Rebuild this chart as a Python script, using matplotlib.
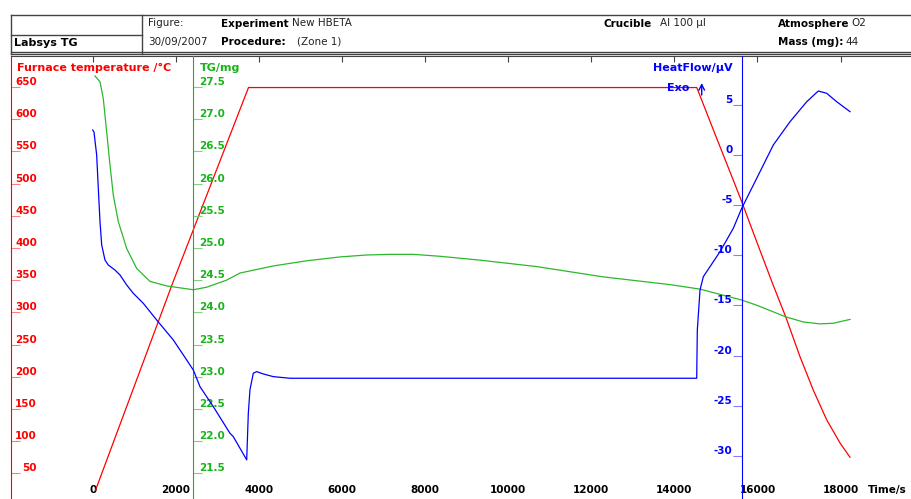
import matplotlib
matplotlib.use("Agg")
import matplotlib.pyplot as plt
from matplotlib.lines import Line2D

plt.rcParams['font.family'] = ['DejaVu Sans']

# --- data (time in s) ---
time_temp = [70, 1940, 3750, 14540, 15020, 15420, 15620, 15980, 16380, 16680,
             17025, 17345, 17667, 17988, 18228]
furnace_temp = [24, 348, 649, 649, 570, 505, 472, 410, 342, 293,
                231, 179, 133, 97, 75]

time_tg = [55, 176, 255, 337, 416, 496, 616, 818, 1059, 1379, 1781, 2422, 2744,
           3225, 3546, 4347, 5151, 5953, 6595, 7156, 7717, 8360, 9322, 10687,
           12290, 13896, 14618, 15622, 15983, 16679, 17104, 17506, 17827, 18228]
tg_mg = [27.67, 27.58, 27.32, 26.80, 26.29, 25.82, 25.41, 24.99, 24.68, 24.48,
         24.41, 24.35, 24.39, 24.50, 24.61, 24.72, 24.80, 24.86, 24.89, 24.90,
         24.90, 24.87, 24.81, 24.71, 24.55, 24.43, 24.36, 24.19, 24.11, 23.93,
         23.85, 23.82, 23.83, 23.89]

time_hf = [0, 31, 96, 135, 176, 217, 296, 375, 537, 657, 818, 977, 1218, 1540,
           1940, 2263, 2422, 2583, 2903, 3305, 3384, 3707, 3746, 3786, 3866,
           3947, 4106, 4347, 4749, 7000, 10000, 14538, 14553, 14618, 14698,
           14859, 15099, 15419, 15622, 15983, 16382, 16784, 17186, 17465,
           17667, 17908, 18228]
heatflow = [2.49, 2.3, 0.0, -3.3, -6.65, -8.97, -10.47, -10.97, -11.47, -11.96,
            -12.96, -13.79, -14.79, -16.45, -18.44, -20.44, -21.44, -23.1,
            -25.09, -27.75, -28.08, -30.4, -25.75, -23.4, -21.76, -21.6, -21.83,
            -22.1, -22.26, -22.26, -22.26, -22.26, -17.45, -13.46, -12.13,
            -11.13, -9.64, -7.31, -5.31, -2.32, 1.0, 3.32, 5.31, 6.38, 6.15,
            5.31, 4.32]

time_ticks = list(range(0, 18001, 2000))
temp_ticks = list(range(50, 651, 50))
tg_ticks = [21.5 + 0.5 * i for i in range(13)]
hf_ticks = list(range(-30, 6, 5))

RED = '#ff0000'
GREEN = '#18b418'
BLUE = '#0000ff'

W, H = 911, 499
fig = plt.figure(figsize=(W / 100, H / 100), dpi=100)


def px(x, y):
    return x / W, 1 - y / H


def hline(x1, x2, y, c='#444444', lw=1.0):
    fig.add_artist(Line2D([x1 / W, x2 / W], [1 - y / H, 1 - y / H],
                          transform=fig.transFigure, color=c, lw=lw))


def vline(x, y1, y2, c='#444444', lw=1.0):
    fig.add_artist(Line2D([x / W, x / W], [1 - y1 / H, 1 - y2 / H],
                          transform=fig.transFigure, color=c, lw=lw))


# header box
hline(11, 911, 14.5)
hline(11, 911, 51.5)
hline(11, 911, 53.5)
hline(11, 142, 34.5)
vline(11, 14.5, 53.5)
vline(142, 14.5, 53.5)

hs = 7.5
fig.text(*px(14, 43), 'Labsys TG', fontsize=8, fontweight='bold', va='center')
fig.text(*px(148, 23), 'Figure:', fontsize=hs, color='#222222', va='center')
fig.text(*px(148, 42), '30/09/2007', fontsize=hs, color='#222222', va='center')
fig.text(*px(221, 24), 'Experiment', fontsize=hs, fontweight='bold', va='center')
fig.text(*px(292, 23), 'New HBETA', fontsize=hs, color='#222222', va='center')
fig.text(*px(221, 42), 'Procedure:', fontsize=hs, fontweight='bold', va='center')
fig.text(*px(297, 42), '(Zone 1)', fontsize=hs, color='#222222', va='center')
fig.text(*px(604, 24), 'Crucible', fontsize=hs, fontweight='bold', va='center')
fig.text(*px(660, 23), 'Al 100 µl', fontsize=hs, color='#222222', va='center')
fig.text(*px(778, 24), 'Atmosphere', fontsize=hs, fontweight='bold', va='center')
fig.text(*px(851, 23), 'O2', fontsize=hs, color='#222222', va='center')
fig.text(*px(778, 42), 'Mass (mg):', fontsize=hs, fontweight='bold', va='center')
fig.text(*px(845, 42), '44', fontsize=hs, color='#222222', va='center')

# main axes: red temperature
ax = fig.add_axes([11 / W, 0, 900 / W, (H - 56) / H])
ax.set_xlim(-1966, 19696)
ax.set_ylim(10.1, 698)
ax.set_facecolor('none')
for s in ['right', 'bottom']:
    ax.spines[s].set_visible(False)
ax.spines['top'].set_color('#444444')
ax.spines['left'].set_color(RED)

ax.set_xticks(time_ticks)
ax.set_xticklabels([str(t) for t in time_ticks])
ax.tick_params(axis='x', top=True, bottom=False, labelbottom=True,
               direction='in', length=4.5, color='#444444', pad=-10.4,
               labelsize=7.5)
for lab in ax.get_xticklabels():
    lab.set_fontweight('bold')

ax.set_yticks(temp_ticks)
ax.set_yticklabels([str(t) for t in temp_ticks])
ax.tick_params(axis='y', direction='in', length=6.5, color='#ff8080',
               labelcolor=RED, pad=-18.7, labelsize=7.5)
for t in ax.yaxis.get_major_ticks():
    t.label1.set_va('bottom')
    t.label1.set_fontweight('bold')

ax.plot(time_temp, furnace_temp, color=RED, lw=0.9)

# green TG axis
ax_g = ax.twinx()
ax_g.set_ylim(21.101, 27.98)
for s in ['left', 'top', 'bottom']:
    ax_g.spines[s].set_visible(False)
ax_g.spines['right'].set_position(('data', 2407))
ax_g.spines['right'].set_color(GREEN)
ax_g.set_yticks(tg_ticks)
ax_g.set_yticklabels(['%.1f' % v for v in tg_ticks])
ax_g.tick_params(axis='y', direction='out', length=6.5, color='#80d080',
                 labelcolor=GREEN, pad=-2.2, labelsize=7.5)
for t in ax_g.yaxis.get_major_ticks():
    t.label2.set_va('bottom')
    t.label2.set_fontweight('bold')
ax_g.plot(time_tg, tg_mg, color='#2cb82c', lw=0.9)

# blue heat flow axis
ax_b = ax.twinx()
ax_b.set_ylim(-34.3, 9.87)
for s in ['right', 'top', 'bottom']:
    ax_b.spines[s].set_visible(False)
ax_b.spines['left'].set_visible(True)
ax_b.spines['left'].set_position(('data', 15620))
ax_b.spines['left'].set_color(BLUE)
ax_b.yaxis.tick_left()
ax_b.set_yticks(hf_ticks)
ax_b.set_yticklabels([str(v) for v in hf_ticks])
ax_b.tick_params(axis='y', direction='out', length=6.5, color='#8080ff',
                 labelcolor=BLUE, pad=0, labelsize=7.5)
for t in ax_b.yaxis.get_major_ticks():
    t.label1.set_va('bottom')
    t.label1.set_fontweight('bold')
ax_b.plot(time_hf, heatflow, color=BLUE, lw=0.9)

# exo arrow
ax_b.annotate('', xy=(14659, 7.45), xytext=(14659, 5.7),
              arrowprops=dict(arrowstyle='->', color=BLUE, lw=1))

# axis titles
fig.text(*px(17, 67.7), 'Furnace temperature /°C', fontsize=8,
         fontweight='bold', color=RED, va='center')
fig.text(*px(200, 68), 'TG/mg', fontsize=8, fontweight='bold', color=GREEN,
         va='center')
fig.text(*px(733, 67.7), 'HeatFlow/µV', fontsize=8, fontweight='bold',
         color=BLUE, va='center', ha='right')
fig.text(*px(689, 87.7), 'Exo', fontsize=8, fontweight='bold', color=BLUE,
         va='center', ha='right')
fig.text(*px(868, 490), 'Time/s', fontsize=7.5, fontweight='bold', va='center')

fig.savefig('out.png', dpi=100)
